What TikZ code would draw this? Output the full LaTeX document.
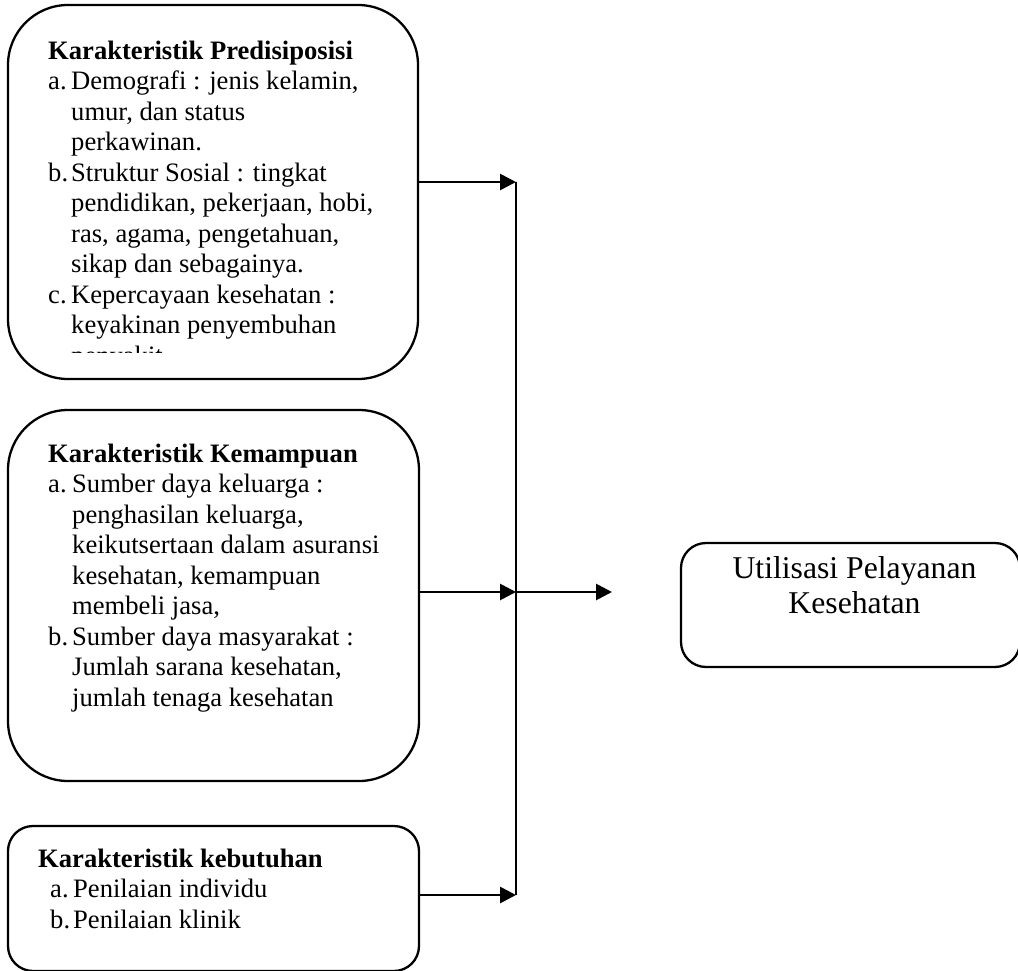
\documentclass[tikz,border=0pt]{standalone}
\usepackage{fontspec}
\setmainfont{Liberation Serif}
\usetikzlibrary{arrows.meta,positioning}

\begin{document}
\begin{tikzpicture}[x=1pt, y=-1pt,
    box/.style={draw, line width=2.3pt, rounded corners=#1},
    box/.default=60pt,
    txt/.style={anchor=base west, inner sep=0pt, font=\fontsize{26.6}{30.5}\selectfont},
    link/.style={line width=2.8pt},
    arr/.style={link, -{Triangle[length=16pt,width=16pt]}}]
    \useasboundingbox (0,0) rectangle (1018,970);
    \node[box, minimum width=410pt, minimum height=374pt] (pre) at (213,192) {};
    \node[box, minimum width=411pt, minimum height=371pt] (abl) at (213.5,595.5) {};
    \node[box=25pt, minimum width=411pt, minimum height=145pt] (need) at (213.5,898.5) {};
    \node[box=25pt, minimum width=339pt, minimum height=124pt] (util) at (850.5,605) {};
    \begin{scope}
        \clip (pre.north west) rectangle ([yshift=27.5pt]pre.south east);
        \node[txt] (pretxt) at (48,59) {\begin{tabular}[t]{@{}p{23pt}@{}l@{}}
            \multicolumn{2}{@{}l@{}}{\textbf{Karakteristik Predisiposisi}}\\
            a. & Demografi : jenis kelamin,\\
               & umur, dan status\\
               & perkawinan.\\
            b. & Struktur Sosial : tingkat\\
               & pendidikan, pekerjaan, hobi,\\
               & ras, agama, pengetahuan,\\
               & sikap dan sebagainya.\\
            c. & Kepercayaan kesehatan :\\
               & keyakinan penyembuhan\\
               & penyakit.
        \end{tabular}};
    \end{scope}
    \node[txt] (abltxt) at (48,462) {\begin{tabular}[t]{@{}p{24pt}@{}l@{}}
        \multicolumn{2}{@{}l@{}}{\textbf{Karakteristik Kemampuan}}\\
        a. & Sumber daya keluarga :\\
           & penghasilan keluarga,\\
           & keikutsertaan dalam asuransi\\
           & kesehatan, kemampuan\\
           & membeli jasa,\\
        b. & Sumber daya masyarakat :\\
           & Jumlah sarana kesehatan,\\
           & jumlah tenaga kesehatan
    \end{tabular}};
    \node[txt] (needtxt) at (38,867) {\begin{tabular}[t]{@{\hspace{12pt}}p{23pt}@{}l@{}}
        \multicolumn{2}{@{}l@{}}{\textbf{Karakteristik kebutuhan}}\\
        a. & Penilaian individu\\
        b. & Penilaian klinik
    \end{tabular}};
    \node[anchor=base, inner sep=0pt, font=\fontsize{31.7}{35}\selectfont] (utiltxt) at (854.5,578)
        {\begin{tabular}[t]{@{}c@{}}Utilisasi Pelayanan\\Kesehatan\end{tabular}};
    \coordinate (jtop) at (516,182);
    \coordinate (jmid) at (516,592);
    \coordinate (jbot) at (516,895);
    \coordinate[right=96pt of jmid] (out);
    \draw[link] (jtop) -- (jbot);
    \draw[arr] (pre.east |- jtop) -- (jtop);
    \draw[arr] (abl.east |- jmid) -- (jmid);
    \draw[arr] (need.east |- jbot) -- (jbot);
    \draw[arr] (jmid) -- (out);
\end{tikzpicture}
\end{document}
